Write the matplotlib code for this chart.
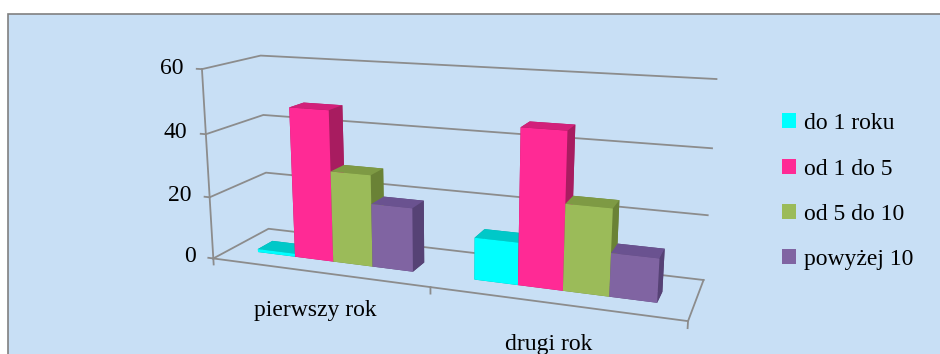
import matplotlib
matplotlib.use("Agg")
import matplotlib.pyplot as plt
import numpy as np
from matplotlib.patches import Patch, Rectangle
from mpl_toolkits.mplot3d import proj3d

# Data: number of people per seniority group, for each year
categories = ["pierwszy rok", "drugi rok"]
series = ["do 1 roku", "od 1 do 5", "od 5 do 10", "powyżej 10"]
values = {
    "pierwszy rok": [1, 48, 29, 20],
    "drugi rok": [13, 47, 26, 13],
}
zticks = [0, 20, 40, 60]

front_colors = ["#00FFFF", "#FF2A95", "#9BBB59", "#8064A2"]
top_colors = ["#00C8C8", "#D2207A", "#7E9A44", "#6A5290"]
side_colors = ["#00A6A6", "#A81C60", "#6A8236", "#564275"]

BG = "#C8DFF5"
GRID = "#8C8C8C"
FONT = "Liberation Serif"
FS = 17

fig = plt.figure(figsize=(9.4, 3.54), dpi=100)
fig.patch.set_facecolor("white")
fig.add_artist(Rectangle((8 / 940, -0.1), 1.1, (354 - 14) / 354 + 0.1,
                         transform=fig.transFigure, facecolor=BG,
                         edgecolor="#808080", linewidth=1.2, zorder=-5))

# 3D view tuned to the old spreadsheet-style perspective
ax = fig.add_axes([-0.026, -0.0557, 1.0, 1.1], projection="3d")
ax.set_facecolor((0, 0, 0, 0))
ax.set_axis_off()
ax.set_proj_type("persp", focal_length=0.479)
ax.view_init(elev=14.01, azim=-69.535, roll=0)
ax.set_xlim(0, 2)
ax.set_ylim(0, 1)
ax.set_zlim(0, 60)
ax.set_box_aspect((1, 0.2301, 0.40735), zoom=1.357)

# bars: one bar3d call so that all faces get depth-sorted together
bar_w = 0.183
bar_d = 0.27
bar_y = 0.31
xs, ys, dzs, face_cols = [], [], [], []
for ci, cat in enumerate(categories):
    start = ci + 0.5 - 2 * bar_w
    for si, v in enumerate(values[cat]):
        xs.append(start + si * bar_w)
        ys.append(bar_y)
        dzs.append(v)
        # face order in bar3d: bottom, top, front, back, left, right
        face_cols += [side_colors[si], top_colors[si], front_colors[si],
                      side_colors[si], side_colors[si], side_colors[si]]
n = len(xs)
bars = ax.bar3d(xs, ys, np.zeros(n), np.full(n, bar_w), np.full(n, bar_d), dzs,
                color=face_cols, shade=False, edgecolor="none", linewidth=0)
bars.set_clip_on(False)

# walls: gridlines on the side and back wall, floor outline
lw = 1.3
segs = []
for z in zticks:
    segs.append(([0, 0, 2], [0, 1, 1], [z, z, z]))
    segs.append(([0, -0.025], [0, 0], [z, z]))
segs.append(([0, 0], [0, 0], [0, 60]))
segs.append(([0, 2, 2], [0, 0, 1], [0, 0, 0]))
for xt in range(len(categories) + 1):
    segs.append(([xt, xt], [0, 0], [0, -2]))
for sx, sy, sz in segs:
    ln, = ax.plot(sx, sy, sz, color=GRID, lw=lw)
    ln.set_clip_on(False)

# labels are placed in 2D at the projected position of their 3D anchor
fig.canvas.draw()
M = ax.get_proj()


def label(x, y, z, s, **kw):
    px, py, _ = proj3d.proj_transform(x, y, z, M)
    ax.text2D(px, py, s, transform=ax.transData, fontsize=FS,
              family=FONT, color="black", clip_on=False, **kw)


for z in zticks:
    label(-0.09, 0, z, str(z), ha="right", va="center")
for ci, cat in enumerate(categories):
    label(ci + 0.485, 0, -12.5, cat, ha="center", va="center")

handles = [Patch(facecolor=c, edgecolor="none") for c in front_colors]
leg = fig.legend(handles, series, loc="upper left",
                 bbox_to_anchor=(761 / 940, 1 - 92 / 354),
                 frameon=False, prop={"family": FONT, "size": FS},
                 handlelength=0.6, handleheight=0.6, handletextpad=0.3,
                 labelspacing=1.03)

fig.savefig("out.png", dpi=100, facecolor=fig.get_facecolor())
